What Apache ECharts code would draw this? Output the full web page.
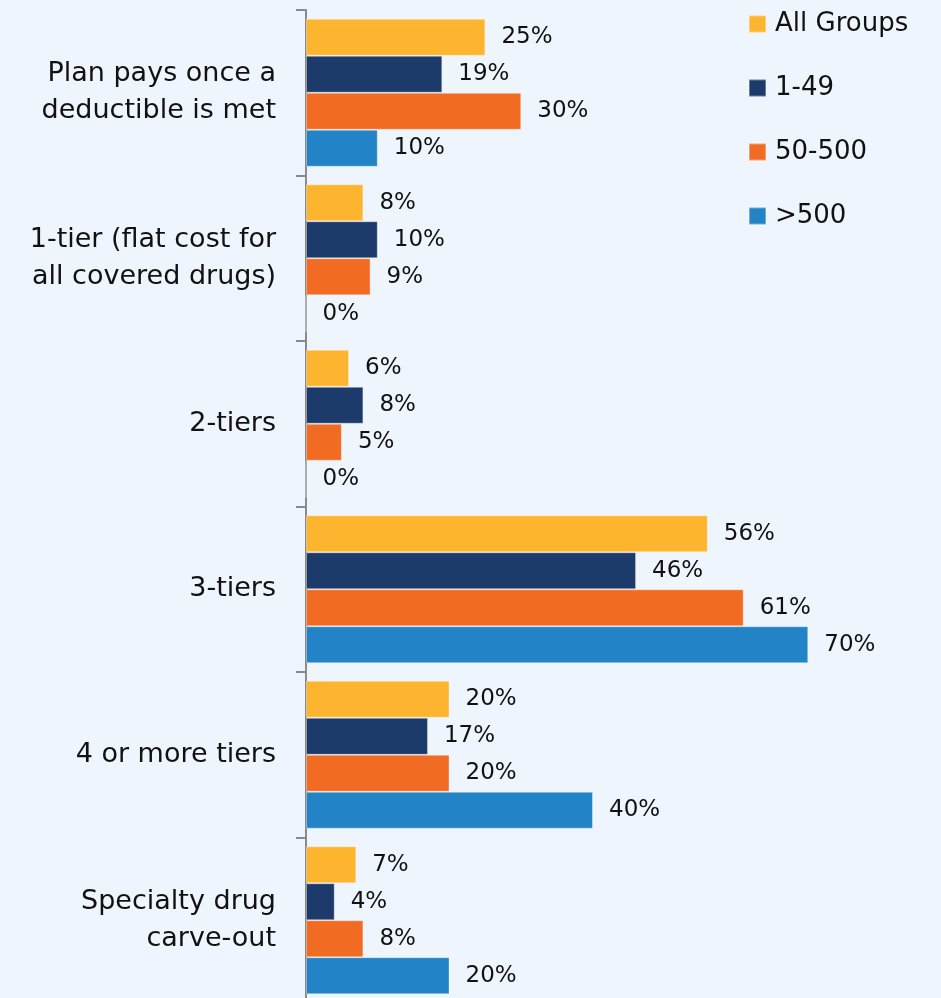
<!DOCTYPE html>
<html><head><meta charset="utf-8">
<script src="https://cdn.jsdelivr.net/npm/echarts@6/dist/echarts.min.js"></script>
<style>html,body{margin:0;padding:0;background:#EEF5FC;overflow:hidden;}#c{width:941px;height:1003px;}</style>
</head><body><div id="c"></div>
<script>
const categories = ["Plan pays once a\ndeductible is met", "1-tier (flat cost for\nall covered drugs)", "2-tiers", "3-tiers", "4 or more tiers", "Specialty drug\ncarve-out"];
const seriesNames = ["All Groups", "1-49", "50-500", ">500"];
const allGroups = [25, 8, 6, 56, 20, 7];
const small = [19, 10, 8, 46, 17, 4];
const mid = [30, 9, 5, 61, 20, 8];
const large = [10, 0, 0, 70, 40, 20];
const colors = ["#FDB52F", "#1C3A6A", "#F26B23", "#2283C6"];
const values = [allGroups, small, mid, large];
const FONT = "DejaVu Sans";
const chart = echarts.init(document.getElementById('c'));
chart.setOption({
  backgroundColor: '#EEF5FC',
  animation: false,
  textStyle: {fontFamily: FONT},
  legend: {
    orient: 'vertical', left: 743, top: 6,
    itemWidth: 17, itemHeight: 17, itemGap: 38,
    icon: 'rect',
    textStyle: {fontSize: 26, color: '#111', fontFamily: FONT, padding: [0,0,0,4]},
    data: seriesNames
  },
  grid: {left: 306, right: 61, top: 10, bottom: 0, containLabel: false},
  xAxis: {type: 'value', min: 0, max: 80, show: false},
  yAxis: {
    type: 'category', data: categories, inverse: true,
    axisLine: {show: true, lineStyle: {color: '#8a8a8a', width: 2}},
    axisTick: {show: true, length: 10, lineStyle: {color: '#8a8a8a', width: 2}},
    axisLabel: {fontSize: 27, color: '#111', fontFamily: FONT, lineHeight: 37, margin: 30, align: 'right'}
  },
  series: seriesNames.map((n, i) => ({
    name: n, type: 'bar', data: values[i],
    barGap: '0%', barCategoryGap: '10.6%',
    itemStyle: {color: colors[i], borderColor: 'rgba(255,255,255,0.35)', borderWidth: 1},
    label: {show: true, position: 'right', distance: 16, formatter: '{c}%', fontSize: 23, color: '#111', fontFamily: FONT}
  }))
});
</script></body></html>
